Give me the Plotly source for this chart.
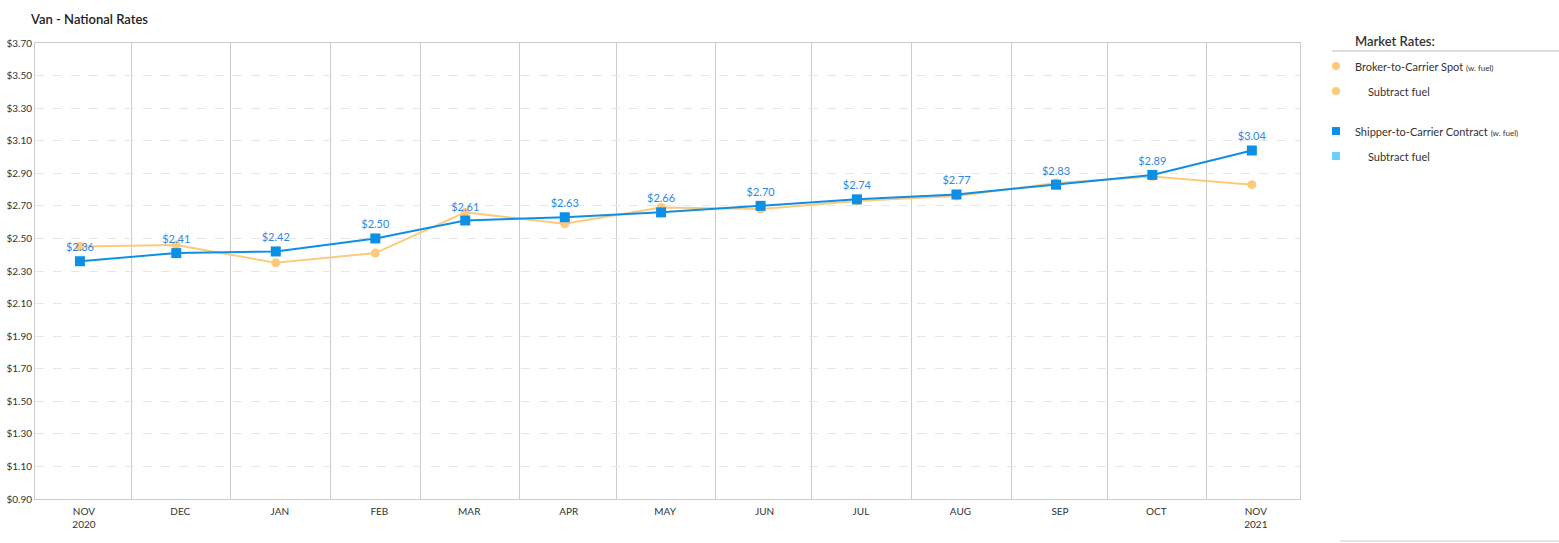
import plotly.graph_objects as go

months = ["2020-11-15", "2020-12-15", "2021-01-15", "2021-02-15", "2021-03-15", "2021-04-15",
          "2021-05-15", "2021-06-15", "2021-07-15", "2021-08-15", "2021-09-15", "2021-10-15",
          "2021-11-15"]
tick_labels = ["NOV<br>2020", "DEC", "JAN", "FEB", "MAR", "APR", "MAY", "JUN", "JUL", "AUG",
               "SEP", "OCT", "NOV<br>2021"]
month_starts = ["2020-12-01", "2021-01-01", "2021-02-01", "2021-03-01", "2021-04-01",
                "2021-05-01", "2021-06-01", "2021-07-01", "2021-08-01", "2021-09-01",
                "2021-10-01", "2021-11-01"]
spot = [2.45, 2.46, 2.35, 2.41, 2.66, 2.59, 2.69, 2.68, 2.73, 2.76, 2.84, 2.88, 2.83]
contract = [2.36, 2.41, 2.42, 2.50, 2.61, 2.63, 2.66, 2.70, 2.74, 2.77, 2.83, 2.89, 3.04]
y_ticks = [0.9, 1.1, 1.3, 1.5, 1.7, 1.9, 2.1, 2.3, 2.5, 2.7, 2.9, 3.1, 3.3, 3.5, 3.7]

W, H = 1559, 543
L, R, T, B = 35, 1300, 43, 499

def px(x):
    return (x - L) / (R - L)

def py(y):
    return (B - y) / (B - T)

ORANGE = "#fdca7c"
BLUE = "#0e8fe6"
LIGHTBLUE = "#6dcffb"
FONT = "Lato"

fig = go.Figure()
fig.add_trace(go.Scatter(
    x=months, y=spot, mode="lines+markers",
    line=dict(color=ORANGE, width=2),
    marker=dict(color=ORANGE, size=9, symbol="circle"),
    showlegend=False, hoverinfo="x+y"))
fig.add_trace(go.Scatter(
    x=months, y=contract, mode="lines+markers+text",
    line=dict(color=BLUE, width=2),
    marker=dict(color=BLUE, size=10, symbol="square"),
    text=[f"${v:.2f}" for v in contract], textposition="top center",
    textfont=dict(color="#2f86e6", size=11, family=FONT),
    showlegend=False, hoverinfo="x+y"))

fig.update_layout(
    width=W, height=H,
    margin=dict(l=L, r=W - R, t=T, b=H - B, autoexpand=False),
    paper_bgcolor="white", plot_bgcolor="white",
    font=dict(family=FONT, color="#333333", size=10),
    title=dict(text="Van - National Rates", xref="container", x=31 / W,
               xanchor="left", y=1 - 19 / H, yanchor="middle",
               font=dict(family=FONT, size=13, color="#222222", weight=600)),
)

fig.update_xaxes(
    type="date", range=["2020-11-01", "2021-11-30"],
    tickmode="array", tickvals=months, ticktext=tick_labels,
    showgrid=False, ticks="outside", ticklen=3, tickcolor="rgba(0,0,0,0)",
    ticklabelshift=4,
    showline=True, mirror=True, linecolor="#cccccc", linewidth=1,
    tickfont=dict(size=10, color="#333333"), automargin=False,
    minor=dict(tickmode="array", tickvals=month_starts, showgrid=True,
               gridcolor="#cccccc", gridwidth=1, ticks=""),
    zeroline=False,
)
fig.update_yaxes(
    range=[0.9, 3.7], tickmode="array", tickvals=y_ticks,
    ticktext=[f"${v:.2f}" for v in y_ticks],
    showgrid=True, gridcolor="#e6e6e6", griddash="dash", gridwidth=1,
    showline=True, mirror=True, linecolor="#cccccc", linewidth=1, ticks="",
    tickfont=dict(size=10, color="#333333"), zeroline=False, automargin=False,
)

# Manual legend
shapes = []
annotations = []
annotations.append(dict(text="Market Rates:", x=px(1353), y=py(41), xref="paper", yref="paper",
                        xanchor="left", yanchor="middle", showarrow=False,
                        font=dict(family=FONT, size=13, color="#333333", weight=600)))
shapes.append(dict(type="line", xref="paper", yref="paper", x0=px(1332), x1=px(1559),
                   y0=py(51), y1=py(51), line=dict(color="#bbbbbb", width=1)))
legend_items = [
    ("Broker-to-Carrier Spot <span style='font-size:8px'>(w. fuel)</span>", 66, "circle", ORANGE, 1353),
    ("Subtract fuel", 91, "circle", ORANGE, 1366),
    ("Shipper-to-Carrier Contract <span style='font-size:8px'>(w. fuel)</span>", 131, "square", BLUE, 1353),
    ("Subtract fuel", 156, "square", LIGHTBLUE, 1366),
]
for text, yy, sym, col, tx in legend_items:
    r = 4
    shapes.append(dict(type="circle" if sym == "circle" else "rect", xref="paper", yref="paper",
                       x0=px(1336 - r), x1=px(1336 + r), y0=py(yy + r), y1=py(yy - r),
                       fillcolor=col, line=dict(width=0)))
    annotations.append(dict(text=text, x=px(tx), y=py(yy), xref="paper", yref="paper",
                            xanchor="left", yanchor="middle", showarrow=False,
                            font=dict(family=FONT, size=11, color="#333333")))
shapes.append(dict(type="line", xref="paper", yref="paper", x0=px(1340), x1=px(1559),
                   y0=py(541), y1=py(541), line=dict(color="#cccccc", width=1)))
fig.update_layout(shapes=shapes, annotations=annotations)

fig.write_html("out.html")
